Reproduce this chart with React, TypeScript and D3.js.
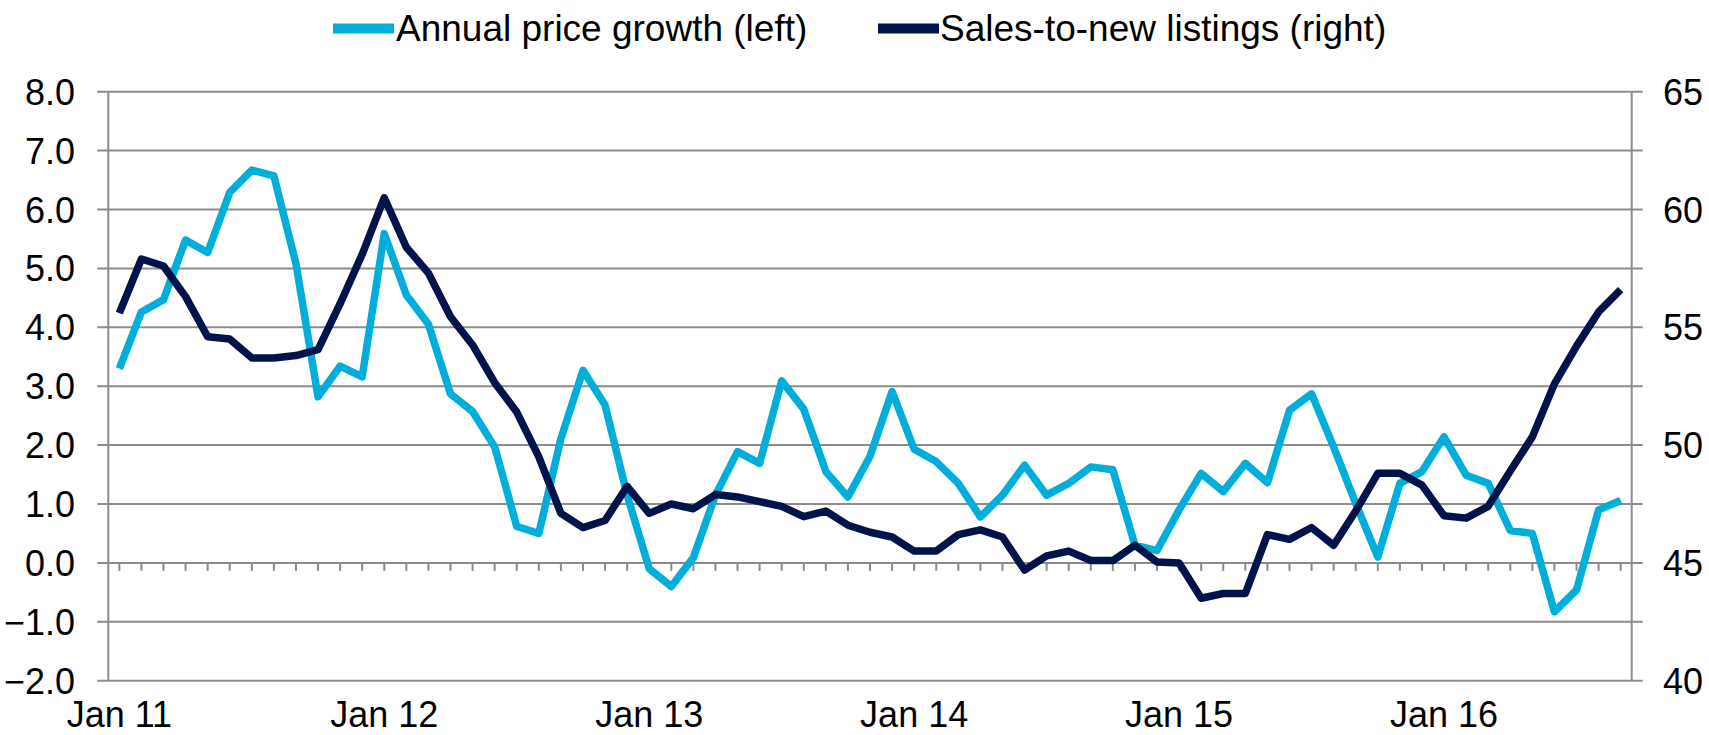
import React from 'react';
import * as d3 from 'd3';

// Monthly series, Jan 2011 - Sep 2016
const priceGrowth = [
  3.3, 4.26, 4.47, 5.48, 5.27, 6.29, 6.67, 6.57, 5.08, 2.82, 3.34, 3.16,
  5.59, 4.55, 4.05, 2.87, 2.57, 1.97, 0.62, 0.5, 2.11, 3.27, 2.68, 1.15,
  -0.1, -0.4, 0.09, 1.15, 1.89, 1.69, 3.09, 2.61, 1.55, 1.12, 1.81, 2.91,
  1.93, 1.72, 1.35, 0.78, 1.15, 1.66, 1.15, 1.35, 1.63, 1.58, 0.3, 0.21,
  0.9, 1.52, 1.21, 1.69, 1.36, 2.59, 2.87, 1.97, 1.01, 0.1, 1.35, 1.55,
  2.14, 1.49, 1.35, 0.55, 0.5, -0.83, -0.46, 0.9, 1.06,
];

const salesToListings = [
  55.6, 57.9, 57.6, 56.3, 54.6, 54.5, 53.7, 53.7, 53.8, 54.05, 56.0, 58.1,
  60.5, 58.4, 57.3, 55.45, 54.25, 52.65, 51.4, 49.5, 47.1, 46.5, 46.8, 48.25,
  47.1, 47.5, 47.3, 47.9, 47.8, 47.6, 47.4, 46.96, 47.2, 46.6, 46.3, 46.1,
  45.5, 45.5, 46.2, 46.4, 46.1, 44.7, 45.3, 45.5, 45.1, 45.1, 45.75, 45.04,
  45.0, 43.5, 43.7, 43.7, 46.2, 46.0, 46.5, 45.75, 47.2, 48.8, 48.8, 48.3,
  47.0, 46.9, 47.4, 48.9, 50.35, 52.6, 54.2, 55.65, 56.6,
];

const leftTicks = [8, 7, 6, 5, 4, 3, 2, 1, 0, -1, -2];
const rightTicks = [65, 60, 55, 50, 45, 40];
const xLabels = ['Jan 11', 'Jan 12', 'Jan 13', 'Jan 14', 'Jan 15', 'Jan 16'];

const seriesNames = ['Annual price growth (left)', 'Sales-to-new listings (right)'];
const CYAN = '#00AED9';
const NAVY = '#00134B';
const GRID = '#8c8c8c';
const FONT = '"Liberation Sans", Arial, sans-serif';

const W = 1709;
const H = 735;
const plot = { left: 108.3, right: 1631.7, top: 91.7, bottom: 680.7 };

const App = () => {
  const n = priceGrowth.length;
  const x = d3.scaleLinear().domain([-0.5, n - 0.5]).range([plot.left, plot.right]);
  const yL = d3.scaleLinear().domain([-2, 8]).range([plot.bottom, plot.top]);
  const yR = d3.scaleLinear().domain([40, 65]).range([plot.bottom, plot.top]);

  const lineL = d3.line<number>().x((_, i) => x(i)).y(d => yL(d));
  const lineR = d3.line<number>().x((_, i) => x(i)).y(d => yR(d));

  const idx = d3.range(n);

  return (
    <svg width={W} height={H} style={{ position: 'absolute', left: 0, top: 0, background: '#fff' }}
      fontFamily={FONT}>
      {/* gridlines */}
      {leftTicks.map(t => (
        <line key={'g' + t} x1={plot.left - 11} x2={plot.right + 11} y1={yL(t)} y2={yL(t)}
          stroke={GRID} strokeWidth={2} />
      ))}
      {/* axis lines */}
      <line x1={plot.left} x2={plot.left} y1={plot.top} y2={plot.bottom} stroke={GRID} strokeWidth={2} />
      <line x1={plot.right} x2={plot.right} y1={plot.top} y2={plot.bottom} stroke={GRID} strokeWidth={2} />
      {/* category ticks on zero line */}
      {idx.map(i => (
        <line key={'t' + i} x1={x(i)} x2={x(i)} y1={yL(0)} y2={yL(0) + 8} stroke={GRID} strokeWidth={2} />
      ))}
      {/* left labels */}
      {leftTicks.map(t => (
        <text key={'l' + t} x={75} y={yL(t) + 13} textAnchor="end" fontSize={36} fill="#000">
          {d3.format('.1f')(t)}
        </text>
      ))}
      {/* right labels */}
      {rightTicks.map(t => (
        <text key={'r' + t} x={1663} y={yR(t) + 13} textAnchor="start" fontSize={36} fill="#000">
          {t}
        </text>
      ))}
      {/* x labels */}
      {xLabels.map((l, k) => (
        <text key={l} x={x(k * 12)} y={727} textAnchor="middle" fontSize={36} fill="#000">{l}</text>
      ))}
      {/* series */}
      <path d={lineL(priceGrowth) || ''} fill="none" stroke={CYAN} strokeWidth={7.5} strokeLinejoin="round" />
      <path d={lineR(salesToListings) || ''} fill="none" stroke={NAVY} strokeWidth={7.5} strokeLinejoin="round" />
      {/* legend */}
      <line x1={333} x2={394} y1={28.5} y2={28.5} stroke={CYAN} strokeWidth={10} />
      <text x={396} y={41} fontSize={37} fill="#000">{seriesNames[0]}</text>
      <line x1={878} x2={939} y1={28.5} y2={28.5} stroke={NAVY} strokeWidth={10} />
      <text x={940} y={41} fontSize={37} fill="#000">{seriesNames[1]}</text>
    </svg>
  );
};

export default App;
